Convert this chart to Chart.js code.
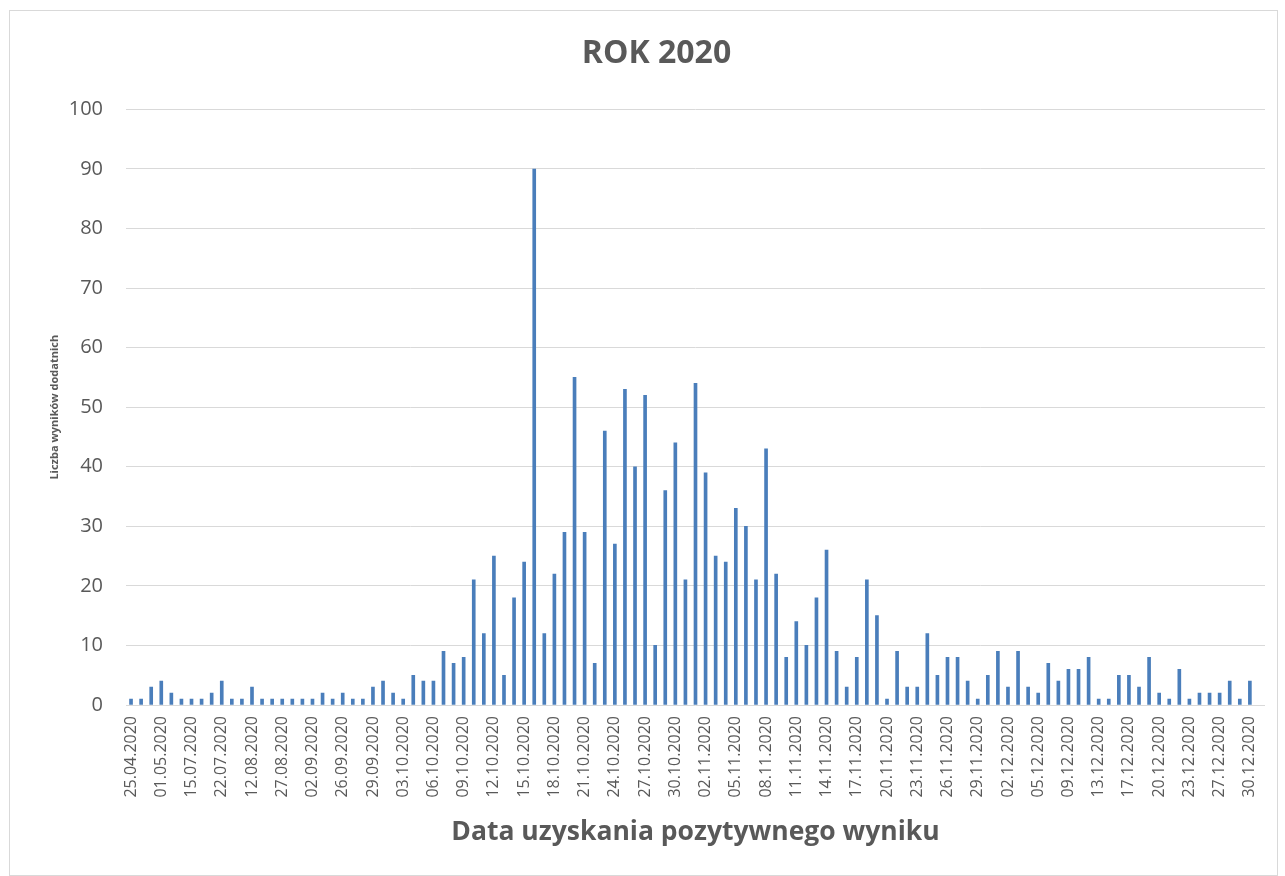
<!DOCTYPE html>
<html lang="pl">
<head>
<meta charset="utf-8">
<title>ROK 2020</title>
<script src="https://cdn.jsdelivr.net/npm/chart.js@4.4.1/dist/chart.umd.min.js"></script>
<style>
  html, body { margin: 0; padding: 0; background: #fff; }
  #wrap { position: relative; width: 1285px; height: 876px; }
  #frame {
    position: absolute; left: 9px; top: 10px; width: 1269px; height: 866px;
    border: 1px solid #d9d9d9; box-sizing: border-box; pointer-events: none;
  }
  canvas { position: absolute; left: 0; top: 0; }
</style>
</head>
<body>
<div id="wrap">
  <canvas id="chart" width="1285" height="876"></canvas>
  <div id="frame"></div>
</div>
<script>
// Dates (categories) - every third one is labelled on the axis
const dates = [
  "25.04.2020", "28.04.2020", "30.04.2020", "01.05.2020", "08.05.2020", "22.05.2020",
  "15.07.2020", "17.07.2020", "20.07.2020", "22.07.2020", "29.07.2020", "05.08.2020",
  "12.08.2020", "18.08.2020", "24.08.2020", "27.08.2020", "29.08.2020", "31.08.2020",
  "02.09.2020", "10.09.2020", "18.09.2020", "26.09.2020", "27.09.2020", "28.09.2020",
  "29.09.2020", "30.09.2020", "01.10.2020", "03.10.2020", "04.10.2020", "05.10.2020",
  "06.10.2020", "07.10.2020", "08.10.2020", "09.10.2020", "10.10.2020", "11.10.2020",
  "12.10.2020", "13.10.2020", "14.10.2020", "15.10.2020", "16.10.2020", "17.10.2020",
  "18.10.2020", "19.10.2020", "20.10.2020", "21.10.2020", "22.10.2020", "23.10.2020",
  "24.10.2020", "25.10.2020", "26.10.2020", "27.10.2020", "28.10.2020", "29.10.2020",
  "30.10.2020", "31.10.2020", "01.11.2020", "02.11.2020", "03.11.2020", "04.11.2020",
  "05.11.2020", "06.11.2020", "07.11.2020", "08.11.2020", "09.11.2020", "10.11.2020",
  "11.11.2020", "12.11.2020", "13.11.2020", "14.11.2020", "15.11.2020", "16.11.2020",
  "17.11.2020", "18.11.2020", "19.11.2020", "20.11.2020", "21.11.2020", "22.11.2020",
  "23.11.2020", "24.11.2020", "25.11.2020", "26.11.2020", "27.11.2020", "28.11.2020",
  "29.11.2020", "30.11.2020", "01.12.2020", "02.12.2020", "03.12.2020", "04.12.2020",
  "05.12.2020", "07.12.2020", "08.12.2020", "09.12.2020", "10.12.2020", "11.12.2020",
  "13.12.2020", "14.12.2020", "15.12.2020", "17.12.2020", "18.12.2020", "19.12.2020",
  "20.12.2020", "21.12.2020", "22.12.2020", "23.12.2020", "24.12.2020", "26.12.2020",
  "27.12.2020", "28.12.2020", "29.12.2020", "30.12.2020", "31.12.2020"
];

// Number of positive results per date
const positives = [
  1, 1, 3, 4, 2, 1, 1, 1, 2, 4, 1, 1, 3, 1, 1, 1, 1, 1, 1, 2, 1, 2, 1, 1, 3, 4, 2,
  1, 5, 4, 4, 9, 7, 8, 21, 12, 25, 5, 18, 24, 90, 12, 22, 29, 55, 29, 7, 46, 27, 53,
  40, 52, 10, 36, 44, 21, 54, 39, 25, 24, 33, 30, 21, 43, 22, 8, 14, 10, 18, 26, 9,
  3, 8, 21, 15, 1, 9, 3, 3, 12, 5, 8, 8, 4, 1, 5, 9, 3, 9, 3, 2, 7, 4, 6, 6, 8, 1,
  1, 5, 5, 3, 8, 2, 1, 6, 1, 2, 2, 2, 4, 1, 4, null
];

// Y axis range
const yMin = 0;
const yMax = 100;
const yStep = 10;

const textColor = "#595959";
const gridColor = "#d9d9d9";
const barColor = "#4a7ebb";

const ctx = document.getElementById("chart").getContext("2d");
new Chart(ctx, {
  type: "bar",
  data: {
    labels: dates,
    datasets: [
      {
        data: positives,
        backgroundColor: barColor,
        borderWidth: 0,
        barThickness: 3,
      },
    ],
  },
  options: {
    responsive: false,
    animation: false,
    layout: { padding: { left: 48, right: 20, top: 0, bottom: 28 } },
    plugins: {
      legend: { display: false },
      tooltip: { enabled: false },
      title: {
        display: true,
        text: "ROK 2020",
        color: textColor,
        font: { family: "'Open Sans'", size: 32, weight: "bold" },
        padding: { top: 35, bottom: 36 },
      },
    },
    scales: {
      x: {
        grid: { display: false, drawTicks: false },
        border: { display: false },
        ticks: {
          autoSkip: false,
          minRotation: 90,
          maxRotation: 90,
          padding: 11,
          color: textColor,
          font: { family: "'Open Sans'", size: 16 },
          // show only every third date, like the original
          callback: (value, index) => (index % 3 === 0 ? dates[index] : null),
        },
        title: {
          display: true,
          text: "Data uzyskania pozytywnego wyniku",
          color: textColor,
          font: { family: "'Open Sans'", size: 26.5, weight: "bold" },
          padding: 0,
        },
        afterFit: (axis) => { axis.height = 143; },
      },
      y: {
        min: yMin,
        max: yMax,
        grid: { color: gridColor, lineWidth: 1, drawTicks: false },
        border: { display: false },
        ticks: {
          stepSize: yStep,
          padding: 23,
          color: textColor,
          font: { family: "'Open Sans'", size: 20 },
        },
        title: {
          display: true,
          text: "Liczba wyników dodatnich",
          color: textColor,
          font: { family: "'Open Sans'", size: 11, weight: "bold" },
          padding: 0,
        },
        afterFit: (axis) => { axis.width = 78; },
      },
    },
  },
});
</script>
</body>
</html>
